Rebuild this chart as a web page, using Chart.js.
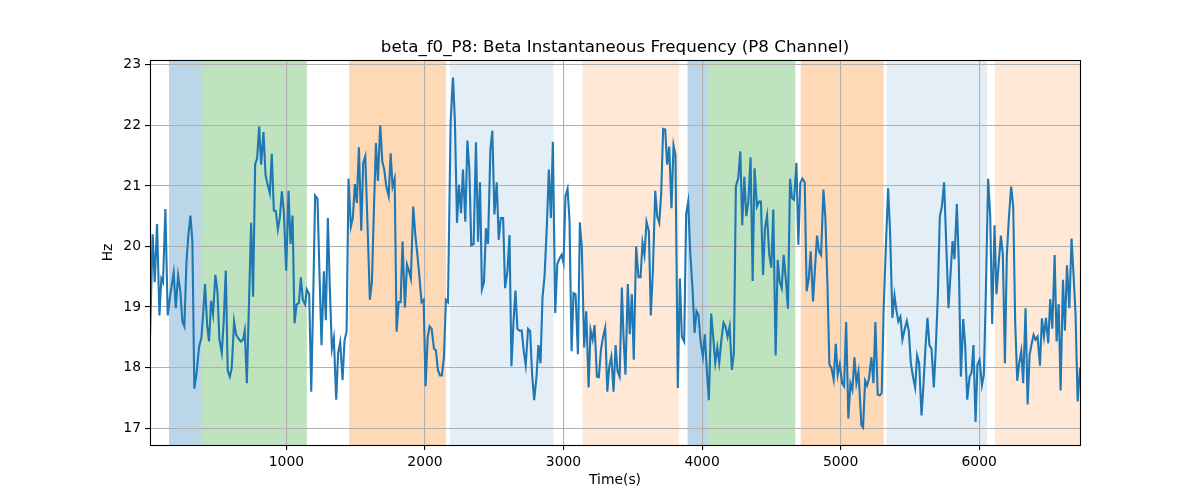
<!DOCTYPE html>
<html>
<head>
<meta charset="utf-8">
<script src="https://cdn.jsdelivr.net/npm/chart.js@4/dist/chart.umd.min.js"></script>
<style>
  html, body { margin: 0; padding: 0; background: #fff; }
  canvas { display: block; }
</style>
</head>
<body>
<canvas id="grafico" width="1200" height="500"></canvas>
<script>
const titulo = "beta_f0_P8: Beta Instantaneous Frequency (P8 Channel)";

// time (s) and frequency (Hz)
const tempos = [
  15, 34, 49, 66, 83, 97, 109, 126, 143, 162, 186, 201, 218, 234, 249, 263, 278, 292, 307, 321,
  335, 350, 369, 386, 400, 412, 427, 441, 456, 470, 487, 502, 516, 533, 547, 562, 576, 591, 605, 622,
  637, 653, 670, 687, 699, 714, 728, 745, 759, 774, 788, 803, 817, 834, 849,
  861, 880, 894, 909, 923, 938, 952, 967, 981, 998, 1015, 1029, 1044, 1058, 1073, 1090, 1104, 1118, 1135, 1147,
  1164, 1179, 1193, 1207, 1224, 1238, 1253, 1270, 1284, 1299, 1313, 1328, 1342, 1359, 1373, 1388, 1405, 1419, 1434, 1448,
  1465, 1479, 1494, 1508, 1523, 1540, 1554, 1569, 1586, 1602, 1617, 1631, 1646, 1660, 1677, 1692, 1706, 1721, 1738,
  1752, 1766, 1781, 1795, 1810, 1824, 1838, 1855, 1870, 1884, 1898, 1915, 1930, 1944, 1961, 1975, 1990, 2004, 2019, 2033,
  2048, 2065, 2079, 2093, 2108, 2122, 2137, 2151, 2166, 2185, 2202, 2216, 2231, 2245, 2260, 2274, 2291, 2306, 2320, 2334,
  2351, 2368, 2383, 2397, 2411, 2426, 2440, 2455, 2472, 2486, 2501, 2518, 2532, 2547, 2564, 2578, 2595, 2610,
  2624, 2639, 2653, 2667, 2682, 2698, 2713, 2727, 2744, 2759, 2773, 2788, 2805, 2819, 2834, 2848, 2863, 2880, 2894, 2909,
  2923, 2940, 2955, 2971, 2986, 3000, 3014, 3029, 3043, 3058, 3072, 3087, 3104, 3118, 3132, 3149, 3164, 3181, 3195, 3210,
  3224, 3241, 3255, 3270, 3284, 3301, 3316, 3330, 3345, 3361, 3376, 3390, 3405,
  3421, 3433, 3447, 3464, 3478, 3493, 3507, 3524, 3541, 3556, 3570, 3584, 3599, 3616, 3630, 3645, 3662, 3676, 3691, 3705,
  3719, 3734, 3748, 3763, 3779, 3794, 3808, 3825, 3840, 3854, 3871, 3885, 3900, 3914, 3931, 3946, 3960, 3974, 3989, 4006,
  4020, 4035, 4049, 4066, 4081, 4095, 4110, 4124, 4141, 4155, 4170, 4184, 4199, 4215, 4230, 4244, 4261, 4276,
  4290, 4305, 4319, 4334, 4350, 4365, 4379, 4396, 4411, 4425, 4440, 4454, 4469, 4485, 4500, 4514, 4531, 4546, 4560, 4575,
  4589, 4606, 4620, 4635, 4649, 4664, 4681, 4695, 4709, 4724, 4741, 4755, 4770, 4784, 4801, 4815, 4830, 4844, 4859, 4876,
  4890, 4905, 4919, 4934, 4950, 4965, 4979, 4994, 5011, 5025, 5040, 5056, 5071, 5085, 5100, 5114, 5129,
  5150, 5162, 5177, 5191, 5205, 5222, 5237, 5251, 5268, 5283, 5297, 5311, 5328, 5343, 5357, 5374, 5389, 5403, 5417, 5432,
  5446, 5461, 5478, 5492, 5507, 5523, 5538, 5552, 5567, 5584, 5598, 5613, 5627, 5641, 5656, 5673, 5687, 5702, 5716, 5731,
  5747, 5762, 5779, 5793, 5808, 5822, 5839, 5853, 5868, 5885, 5899, 5914, 5931, 5945, 5959, 5974, 5988, 6003, 6020, 6034,
  6048, 6065, 6080, 6094, 6111, 6125, 6142, 6157, 6171, 6186, 6200, 6215, 6231, 6246, 6260, 6275, 6289, 6304, 6318, 6335,
  6350, 6364, 6378, 6393, 6407, 6422, 6439, 6453, 6468, 6482, 6499, 6513, 6528, 6545, 6559, 6574, 6588, 6605, 6619, 6634,
  6651, 6667, 6682, 6696, 6711, 6728
];
const frequencias = [
  18.50, 20.20, 19.41, 20.37, 18.86, 19.47, 19.41, 20.62, 18.86, 19.21, 19.57, 18.98, 19.52, 19.26, 18.76, 18.68, 19.73, 20.19, 20.51, 20.08,
  17.65, 17.88, 18.34, 18.49, 18.93, 19.38, 18.71, 18.43, 19.10, 18.88, 19.53, 19.25, 18.46, 18.24, 18.76, 19.60, 17.95, 17.85, 17.99, 18.76,
  18.54, 18.48, 18.43, 18.46, 18.61, 17.74, 18.93, 20.39, 19.17, 21.36, 21.45, 21.98, 21.35, 21.89, 21.18,
  21.05, 20.88, 21.53, 20.59, 20.59, 20.28, 20.47, 20.91, 20.58, 19.60, 20.92, 20.04, 20.51, 18.73, 19.04, 19.07, 19.49, 19.12, 19.04, 19.29,
  19.21, 17.60, 19.15, 20.84, 20.79, 19.59, 18.37, 19.59, 18.78, 20.47, 19.31, 18.31, 18.49, 17.47, 18.24, 18.42, 17.79, 18.44, 18.60, 21.12,
  20.33, 20.47, 21.03, 20.72, 21.64, 20.26, 21.38, 21.49, 20.30, 19.12, 19.42, 20.59, 21.71, 21.08, 22.00, 21.40, 21.27, 20.99, 20.83,
  21.54, 20.99, 21.12, 18.59, 19.08, 19.08, 20.08, 18.99, 19.70, 19.60, 19.47, 20.66, 20.19, 19.89, 19.47, 19.08, 19.12, 17.69, 18.49, 18.68,
  18.64, 18.31, 18.28, 17.96, 17.87, 17.87, 18.18, 19.12, 19.08, 22.06, 22.79, 22.06, 20.39, 21.02, 20.55, 21.27, 20.41, 21.75, 21.29, 20.02,
  20.04, 21.72, 20.08, 21.06, 19.29, 19.41, 20.30, 20.04, 21.60, 21.91, 20.53, 21.06, 20.11, 20.47, 20.47, 19.31, 19.59, 20.19,
  18.02, 18.76, 19.27, 18.64, 18.61, 18.61, 18.27, 18.04, 18.64, 18.60, 17.89, 17.46, 17.85, 18.37, 18.07, 19.15, 19.51, 20.36, 21.27, 20.47,
  21.73, 18.90, 19.71, 19.80, 19.86, 19.73, 20.83, 20.95, 20.44, 18.27, 19.23, 19.21, 18.22, 20.40, 19.98, 18.33, 18.93, 17.67, 18.62, 18.46,
  18.70, 17.85, 17.84, 18.29, 18.49, 18.66, 17.60, 18.02, 18.18, 17.60, 18.37, 17.94, 17.85,
  19.32, 18.51, 17.88, 19.38, 18.55, 19.21, 18.13, 20.00, 19.49, 19.49, 20.06, 19.86, 20.41, 20.25, 18.86, 19.59, 20.92, 20.50, 20.39, 20.88,
  21.94, 21.93, 21.35, 21.65, 20.63, 21.67, 21.51, 17.66, 19.47, 18.51, 18.43, 20.53, 20.74, 19.92, 19.31, 18.57, 18.93, 18.87, 18.43, 18.18,
  18.55, 17.93, 17.46, 18.89, 18.49, 18.08, 18.33, 18.08, 18.49, 18.74, 18.67, 18.51, 18.68, 17.96, 18.24, 20.99, 21.13, 21.57,
  20.35, 21.15, 20.50, 20.74, 21.47, 19.43, 21.29, 20.66, 20.74, 20.74, 19.53, 20.30, 20.51, 19.86, 19.65, 20.61, 18.20, 19.78, 19.42, 19.31,
  19.86, 19.42, 18.97, 21.12, 20.80, 20.77, 21.38, 20.03, 21.05, 21.12, 21.06, 19.26, 19.47, 19.92, 19.09, 19.64, 20.18, 19.92, 19.86, 20.94,
  20.47, 19.37, 18.05, 17.99, 17.80, 18.39, 17.88, 18.05, 17.74, 17.69, 18.75, 17.16, 17.74, 17.63, 18.17, 17.74, 17.93,
  17.05, 17.01, 17.78, 17.70, 17.82, 18.17, 17.74, 18.75, 17.55, 17.54, 17.58, 18.98, 20.08, 20.96, 20.25, 18.82, 19.19, 18.94, 18.76, 18.84,
  18.46, 18.62, 18.77, 18.61, 18.07, 17.84, 17.67, 18.20, 18.07, 17.21, 17.71, 18.35, 18.82, 18.37, 18.31, 17.67, 18.32, 19.20, 20.49, 20.66,
  21.06, 20.08, 18.98, 19.53, 20.09, 19.79, 20.70, 19.75, 17.85, 18.80, 18.37, 17.47, 17.85, 17.91, 18.37, 17.10, 18.05, 18.13, 17.71, 17.88,
  19.20, 21.12, 20.50, 18.72, 20.35, 19.21, 19.75, 20.18, 19.87, 18.07, 19.87, 20.48, 20.99, 20.66, 18.76, 17.78, 18.07, 18.27, 17.74, 18.98,
  17.39, 18.21, 18.38, 18.54, 18.46, 18.51, 18.03, 18.81, 18.51, 18.82, 18.40, 19.13, 18.64, 19.86, 18.43, 19.05, 17.62, 19.45, 18.61, 19.69,
  18.98, 20.13, 19.51, 18.87, 17.44, 17.99
];

// shaded segments: start, end, colour
const faixaInicio = [152, 389, 1453, 2181, 3137, 3895, 4037, 4712, 5331, 6113];
const faixaFim    = [389, 1147, 2151, 2927, 3835, 4037, 4673, 5311, 6058, 6728];
const faixaCor = [
  "rgba(31,119,180,0.3)", "rgba(44,160,44,0.3)", "rgba(255,127,14,0.3)", "rgba(31,119,180,0.12)", "rgba(255,127,14,0.17)",
  "rgba(31,119,180,0.3)", "rgba(44,160,44,0.3)", "rgba(255,127,14,0.3)", "rgba(31,119,180,0.12)", "rgba(255,127,14,0.17)"
];

const xTicks = [1000, 2000, 3000, 4000, 5000, 6000];
const yTicks = [17, 18, 19, 20, 21, 22, 23];
const yMin = 16.72, yMax = 23.08;
const fonte = "'DejaVu Sans', 'Liberation Sans', sans-serif";

const pontos = tempos.map((t, i) => ({x: t, y: frequencias[i]}));

const faixas = {
  id: "faixas",
  beforeDraw(chart){
    const {ctx, chartArea: a, scales: {x}} = chart;
    ctx.save();
    faixaInicio.forEach((ini, i) => {
      const x0 = Math.max(a.left, x.getPixelForValue(ini));
      const x1 = Math.min(a.right, x.getPixelForValue(faixaFim[i]));
      ctx.fillStyle = faixaCor[i];
      ctx.fillRect(x0, a.top, x1 - x0, a.bottom - a.top);
    });
    ctx.restore();
  }
};

const moldura = {
  id: "moldura",
  afterDraw(chart){
    const {ctx, chartArea: a} = chart;
    ctx.save();
    ctx.strokeStyle = "#000";
    ctx.lineWidth = 1.1;
    ctx.strokeRect(Math.round(a.left) + 0.5, Math.round(a.top) + 0.5, Math.round(a.right - a.left), Math.round(a.bottom - a.top));
    ctx.font = "16.67px " + fonte;
    ctx.fillStyle = "#000";
    ctx.textAlign = "center";
    ctx.textBaseline = "alphabetic";
    ctx.fillText(titulo, (a.left + a.right) / 2, 52);
    ctx.restore();
  }
};

const grade = {color: "#b0b0b0", lineWidth: 1.1, tickColor: "#000", tickLength: 5, tickWidth: 1.1};

new Chart(document.getElementById("grafico"), {
  type: "line",
  data: {
    datasets: [{
      data: pontos,
      borderColor: "#1f77b4",
      borderWidth: 2.1,
      pointRadius: 0,
      tension: 0,
      fill: false
    }]
  },
  options: {
    responsive: false,
    animation: false,
    layout: {padding: {top: 60, right: 120, bottom: 0, left: 0}},
    plugins: {legend: {display: false}, tooltip: {enabled: false}},
    scales: {
      x: {
        type: "linear",
        min: tempos[0],
        max: tempos[tempos.length - 1],
        afterFit: s => { s.height = 55; },
        afterBuildTicks: s => { s.ticks = xTicks.map(v => ({value: v})); },
        border: {display: false},
        grid: grade,
        ticks: {autoSkip: false, maxRotation: 0, padding: 4, color: "#000",
                font: {family: fonte, size: 13.9}, callback: v => String(v)},
        title: {display: true, text: "Time(s)", color: "#000", font: {family: fonte, size: 13.9}, padding: {top: 0, bottom: 11}}
      },
      y: {
        min: yMin,
        max: yMax,
        afterFit: s => { s.width = 150; },
        afterBuildTicks: s => { s.ticks = yTicks.map(v => ({value: v})); },
        border: {display: false},
        grid: grade,
        ticks: {autoSkip: false, padding: 4, color: "#000",
                font: {family: fonte, size: 13.9}, callback: v => String(v)},
        title: {display: true, text: "Hz", color: "#000", font: {family: fonte, size: 13.9}, padding: {top: 100, bottom: 0}}
      }
    }
  },
  plugins: [faixas, moldura]
});
</script>
</body>
</html>
